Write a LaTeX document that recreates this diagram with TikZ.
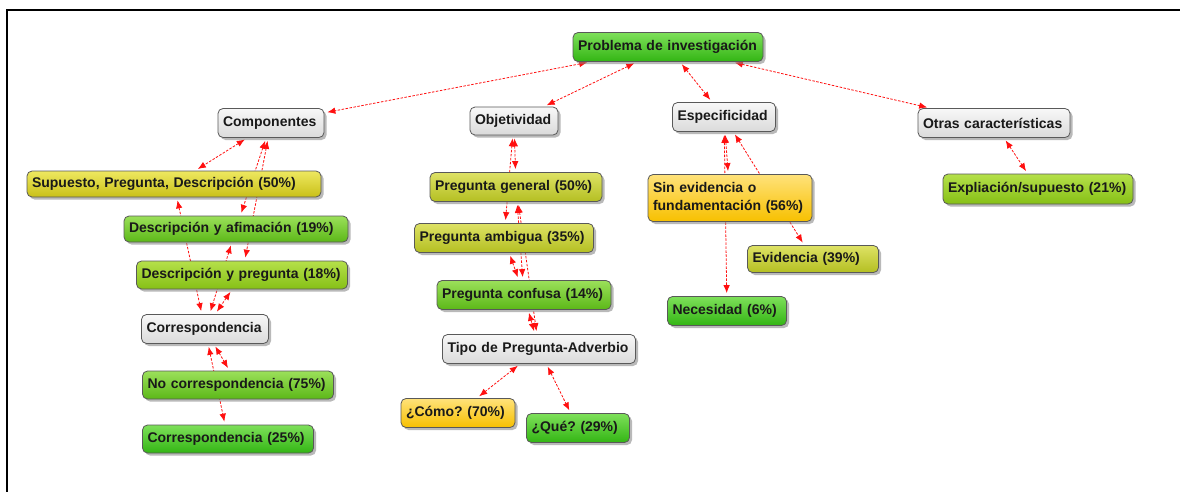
\documentclass[tikz,border=0pt]{standalone}
\usepackage{fontspec}
\setmainfont{Liberation Sans}
\frenchspacing
\usetikzlibrary{shadows,arrows.meta,calc}
\pgfdeclarelayer{bg}
\pgfsetlayers{bg,main}
\definecolor{grayT}{HTML}{F8F8F8}\definecolor{grayB}{HTML}{DADADA}
\definecolor{grnT}{HTML}{7EE05A}\definecolor{grnB}{HTML}{33B514}
\definecolor{grn2T}{HTML}{9BE05A}\definecolor{grn2B}{HTML}{5CB818}
\definecolor{ygT}{HTML}{B5E04A}\definecolor{ygB}{HTML}{86C016}
\definecolor{olvT}{HTML}{EEE860}\definecolor{olvB}{HTML}{C9C018}
\definecolor{olv2T}{HTML}{DEE265}\definecolor{olv2B}{HTML}{B4BF22}
\definecolor{orgT}{HTML}{FFE27A}\definecolor{orgB}{HTML}{F7C000}
\definecolor{linkred}{HTML}{FF1010}
\tikzset{
  box/.style={draw=black!65, line width=0.8pt, rounded corners=5pt,
    inner xsep=5pt, inner ysep=2pt, align=left,
    font=\fontsize{14}{18}\selectfont\bfseries, text=black!90,
    drop shadow={shadow xshift=2.5pt, shadow yshift=-2.5pt, fill=black!50, opacity=0.55}},
  fgray/.style={top color=grayT, bottom color=grayB},
  fgreen/.style={top color=grnT, bottom color=grnB},
  fgreentwo/.style={top color=grn2T, bottom color=grn2B},
  fyg/.style={top color=ygT, bottom color=ygB},
  folive/.style={top color=olvT, bottom color=olvB},
  folivetwo/.style={top color=olv2T, bottom color=olv2B},
  forange/.style={top color=orgT, bottom color=orgB},
  conn/.style={draw=linkred, line width=0.8pt, dash pattern=on 2.5pt off 1.5pt,
    {Latex[length=8pt,width=6.5pt]}-{Latex[length=8pt,width=6.5pt]},
    shorten <=3pt, shorten >=3pt},
  frame/.style={draw=black, line width=2pt}
}
\begin{document}
\begin{tikzpicture}[x=1pt,y=-1pt]
\useasboundingbox (0,0) rectangle (1180,491);
\clip (0,0) rectangle (1180,491);
\begin{pgfonlayer}{bg}
\fill[white] (0,0) rectangle (1180,491);
\end{pgfonlayer}
\draw[frame] (7,500) -- (7,10) -- (1190,10);

% nodes
\node[box,fgreen,text width=180pt,minimum height=29pt] (prob) at (668,47) {Problema de investigación};
\node[box,fgray,text width=96pt,minimum height=29pt] (comp) at (271,123) {Componentes};
\node[box,fgray,text width=78pt,minimum height=28pt] (obj) at (514,121) {Objetividad};
\node[box,fgray,text width=93pt,minimum height=29pt] (esp) at (724,117) {Especificidad};
\node[box,fgray,text width=142pt,minimum height=29pt] (otras) at (994,123) {Otras características};

\node[box,folive,text width=284pt,minimum height=26pt] (sup) at (174,184) {Supuesto, Pregunta, Descripción (50\%)};
\node[box,fgreentwo,text width=214pt,minimum height=26pt] (dafi) at (236,229) {Descripción y afimación (19\%)};
\node[box,fyg,text width=201pt,minimum height=28pt] (dpre) at (242,275) {Descripción y pregunta (18\%)};
\node[box,fgray,text width=117pt,minimum height=29pt] (corr) at (205,329) {Correspondencia};
\node[box,fgreentwo,text width=181pt,minimum height=28pt] (nocorr) at (238,385) {No correspondencia (75\%)};
\node[box,fgreen,text width=161pt,minimum height=28pt] (corrv) at (228,439) {Correspondencia (25\%)};

\node[box,folivetwo,text width=162pt,minimum height=29pt] (pgen) at (516,187) {Pregunta general (50\%)};
\node[box,folivetwo,text width=169pt,minimum height=29pt] (pamb) at (504,238) {Pregunta ambigua (35\%)};
\node[box,fgreentwo,text width=164pt,minimum height=29pt] (pconf) at (524,295) {Pregunta confusa (14\%)};
\node[box,fgray,text width=183pt,minimum height=29pt] (tipo) at (539,349) {Tipo de Pregunta-Adverbio};
\node[box,forange,text width=104pt,minimum height=29pt] (como) at (458,413) {¿Cómo? (70\%)};
\node[box,fgreen,text width=93pt,minimum height=29pt] (que) at (578,428) {¿Qué? (29\%)};

\node[box,forange,text width=154pt,minimum height=47pt] (sinev) at (730,198) {Sin evidencia o\\fundamentación (56\%)};
\node[box,folivetwo,text width=121pt,minimum height=27pt] (evid) at (813,259) {Evidencia (39\%)};
\node[box,fgreen,text width=109pt,minimum height=29pt] (nec) at (727,311) {Necesidad (6\%)};

\node[box,fyg,text width=180pt,minimum height=30pt] (expl) at (1038,189) {Expliación/supuesto (21\%)};

% connectors
\begin{pgfonlayer}{bg}
\draw[conn] (prob) -- (comp);
\draw[conn] (prob) -- (obj);
\draw[conn] (prob) -- (esp);
\draw[conn] (prob) -- (otras);
\draw[conn] (otras) -- (expl);

\draw[conn] (comp) -- (sup);
\draw[conn] (comp) -- (dafi);
\draw[conn] (comp) -- (dpre);
\draw[conn] (sup) -- (corr);
\draw[conn] (dafi) -- (corr);
\draw[conn] (dpre) -- (corr);
\draw[conn] (corr) -- (nocorr);
\draw[conn] (corr) -- (corrv);

\draw[conn] (obj) -- (pgen);
\draw[conn] (obj) -- (pamb);
\draw[conn] (pgen) -- (pconf);
\draw[conn] (pamb) -- (pconf);
\draw[conn] (pgen) -- (tipo);
\draw[conn] (pconf) -- (tipo);
\draw[conn] (tipo) -- (como);
\draw[conn] (tipo) -- (que);

\draw[conn] (esp) -- (sinev);
\draw[conn] (esp) -- (nec);
\draw[conn] (esp) -- (evid);
\end{pgfonlayer}
\end{tikzpicture}
\end{document}
